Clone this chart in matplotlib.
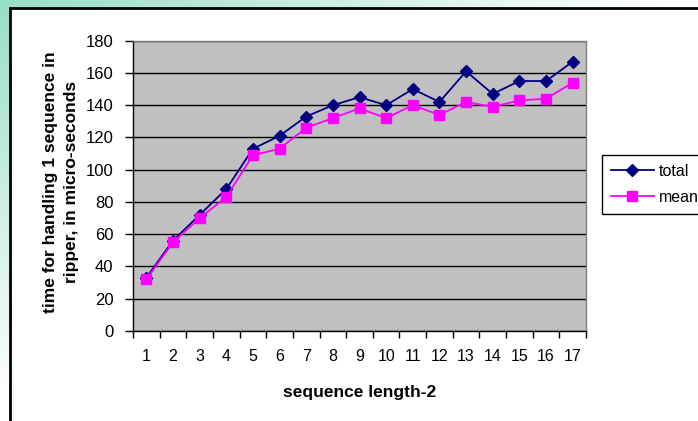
import numpy as np
import matplotlib
matplotlib.use("Agg")
import matplotlib.pyplot as plt
from matplotlib.patches import Rectangle

plt.rcParams['font.family'] = ['Liberation Sans', 'DejaVu Sans']

# timing per sequence length
seq_len = list(range(1, 18))
total = [33, 56, 72, 88, 113, 121, 133, 140, 145, 140, 150, 142, 161, 147, 155, 155, 167]
mean = [32, 55, 70, 83, 109, 113, 126, 132, 138, 132, 140, 134, 142, 139, 143, 144, 154]
y_ticks = list(range(0, 181, 20))

W, H = 698, 421
fig = plt.figure(figsize=(W / 100, H / 100), dpi=100)

# slide background: aqua fading to white, then the white panel
bg = fig.add_axes([0, 0, 1, 1])
bg.set_axis_off()
xx, yy = np.meshgrid(np.linspace(0, 1, 200), np.linspace(0, 1, 120))
t = np.clip((xx + yy) * 1.05, 0, 1)[..., None]
aqua = np.array([0.60, 0.87, 0.77])
grad = aqua * (1 - t) + np.ones(3) * t
bg.imshow(grad, extent=[0, 1, 0, 1], aspect='auto', origin='upper')
bg.add_patch(Rectangle((10 / W, -0.05), 1.1, 1.05 - 8 / H, transform=bg.transAxes,
                       facecolor='white', edgecolor='black', linewidth=2))
bg.set_xlim(0, 1)
bg.set_ylim(0, 1)

ax = fig.add_axes([133 / W, 1 - 331 / H, (586 - 133) / W, (331 - 40.7) / H])
ax.set_facecolor('#C0C0C0')

ax.plot(seq_len, total, color='#000080', marker='D', markersize=6.5, linewidth=1.3, label='total')
ax.plot(seq_len, mean, color='#FF00FF', marker='s', markersize=6.5, linewidth=1.3, label='mean')

ax.set_xlim(0.5, 17.5)
ax.set_ylim(0, 180)
ax.set_yticks(y_ticks)
ax.set_xticks(seq_len)
ax.set_xticks(np.arange(0.5, 18, 1), minor=True)
ax.tick_params(axis='x', which='major', length=0, pad=13, labelsize=11.5)
ax.tick_params(axis='x', which='minor', length=5, width=1, direction='out', color='black')
ax.tick_params(axis='y', length=6, width=1, direction='out', labelsize=12, pad=8)
ax.yaxis.grid(True, color='black', linewidth=1)
ax.set_axisbelow(True)

for side in ['left', 'bottom']:
    ax.spines[side].set_color('black')
    ax.spines[side].set_linewidth(1)
for side in ['right', 'top']:
    ax.spines[side].set_color('#808080')
    ax.spines[side].set_linewidth(1)

fig.text(360 / W, 1 - 392 / H, 'sequence length-2', fontweight='bold', fontsize=12.5,
         ha='center', va='center')
fig.text(61 / W, 1 - 182 / H, 'time for handling 1 sequence in\nripper, in micro-seconds',
         fontweight='bold', fontsize=12.5, rotation=90, ha='center', va='center',
         multialignment='center', linespacing=1.45)

leg = fig.legend(loc='upper left', bbox_to_anchor=(602 / W, 1 - 155 / H), fontsize=11.5,
                 frameon=True, fancybox=False, framealpha=1, edgecolor='black',
                 handlelength=2.7, borderaxespad=0, borderpad=0.55, labelspacing=0.7,
                 handletextpad=0.3)
leg.get_frame().set_linewidth(1)

fig.savefig('out.png', dpi=100)
